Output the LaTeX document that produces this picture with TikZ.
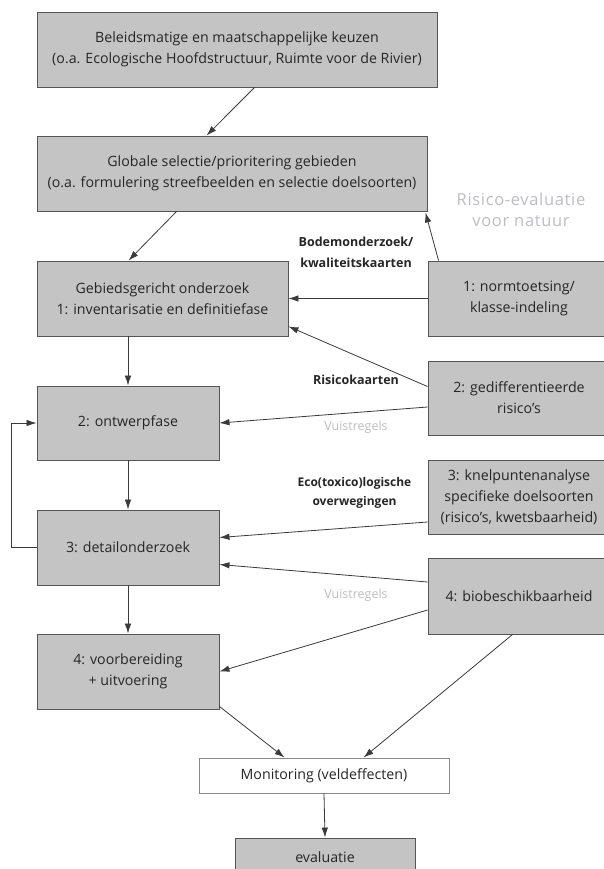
\documentclass[tikz,border=0pt]{standalone}
\usepackage{fontspec}
\setmainfont{Open Sans}
\newfontfamily\spacedfont[LetterSpace=4]{Open Sans}
\usetikzlibrary{arrows.meta,calc}
\definecolor{boxfill}{HTML}{C4C4C4}
\definecolor{boxline}{HTML}{555555}
\definecolor{lightlab}{HTML}{BDBDC6}
\definecolor{arrcol}{HTML}{3A3A3A}
\begin{document}
\begin{tikzpicture}[x=1pt,y=-1pt,
  box/.style={draw=boxline,fill=boxfill,line width=0.9pt,inner sep=0pt,align=center,
    font=\fontsize{14.2}{21}\selectfont,text=black!85},
  wbox/.style={box,fill=white,draw=boxline!70},
  arr/.style={draw=arrcol,line width=0.8pt,-{Latex[length=10pt,width=6.5pt]}},
  blab/.style={align=center,font=\fontsize{12.5}{21}\selectfont\bfseries,text=black!85},
  glab/.style={align=center,font=\fontsize{12.5}{21}\selectfont,text=lightlab},
  ]
\useasboundingbox (0,0) rectangle (604,869);
\fill[white] (0,0) rectangle (604,869);
% left column
\node[box,minimum width=400pt,minimum height=75pt] (b1) at (237,49.5)
  {Beleidsmatige en maatschappelijke keuzen\\(o.a. Ecologische Hoofdstructuur, Ruimte voor de Rivier)};
\node[box,minimum width=390pt,minimum height=75pt] (b2) at (232,173.5)
  {Globale selectie/prioritering gebieden\\(o.a. formulering streefbeelden en selectie doelsoorten)};
\node[box,minimum width=251pt,minimum height=75pt] (b3) at (162.5,298.5)
  {Gebiedsgericht onderzoek\\1: inventarisatie en definitiefase};
\node[box,minimum width=182pt,minimum height=74pt] (b4) at (128,423) {2: ontwerpfase};
\node[box,minimum width=182pt,minimum height=75pt] (b5) at (128,547.5) {3: detailonderzoek};
\node[box,minimum width=182pt,minimum height=75pt] (b6) at (128,671.5) {4: voorbereiding\\+ uitvoering};
% right column
\node[box,minimum width=182pt,minimum height=75pt] (n1) at (519,298.5) {1: normtoetsing/\\klasse-indeling};
\node[box,minimum width=182pt,minimum height=74pt] (n2) at (519,398) {2: gedifferentieerde\\risico's};
\node[box,minimum width=182pt,minimum height=74pt] (n3) at (519,497) {3: knelpuntenanalyse\\specifieke doelsoorten\\(risico's, kwetsbaarheid)};
\node[box,minimum width=182pt,minimum height=76pt] (n4) at (519,596) {4: biobeschikbaarheid};
% bottom
\node[wbox,minimum width=250pt,minimum height=35pt] (mon) at (324,775.5) {Monitoring (veldeffecten)};
\node[box,minimum width=180pt,minimum height=38pt] (ev) at (325,857) {evaluatie};
% labels
\node[align=center,font=\spacedfont\fontsize{16.5}{21}\selectfont,text=lightlab] (risk) at (521,210) {Risico-evaluatie\\voor natuur};
\node[blab] (l1) at (356,252.5) {Bodemonderzoek/\\kwaliteitskaarten};
\node[blab] (l2) at (356,380) {Risicokaarten};
\node[glab] (l3) at (356,427) {Vuistregels};
\node[blab,font=\fontsize{12}{18.5}\selectfont\bfseries] (l4) at (354.5,493) {Eco(toxico)logische\\overwegingen};
\node[glab] (l5) at (356,595) {Vuistregels};
% connectors
\draw[arr] ([xshift=218pt]b1.south west) -- ([xshift=170pt]b2.north west);
\draw[arr] ([xshift=140pt]b2.south west) -- ([xshift=92pt]b3.north west);
\draw[arr] (n1.west) -- (b3.east);
\draw[arr] ([xshift=11pt]n1.north west) -- ([xshift=-2pt,yshift=-1pt]b2.south east);
\draw[arr] ([yshift=-26pt]n2.north west) -- ([yshift=10pt]b3.south east);
\draw[arr] ([yshift=-9pt]n2.west) -- (b4.east);
\draw[arr] (b4.north |- b3.south) -- (b4.north);
\draw[arr] (b4.south) -- (b5.north);
\draw[arr] ([yshift=-25pt]n3.west) -- ([yshift=10pt]b5.east);
\draw[arr] (b5.west) -- ++(-25pt,0) |- (b4.west);
\draw[arr] ([yshift=14pt]n4.west) -- ([yshift=-17pt]b5.east);
\draw[arr] ([yshift=-14pt]n4.west) -- (b6.east);
\draw[arr] (b5.south) -- (b6.north);
\draw[arr] ([yshift=3pt]b6.south east) -- ([xshift=86pt]mon.north west);
\draw[arr] ([xshift=85pt]n4.south west) -- ([xshift=165pt]mon.north west);
\draw[arr] (mon.south) -- (ev.north);
\end{tikzpicture}
\end{document}
